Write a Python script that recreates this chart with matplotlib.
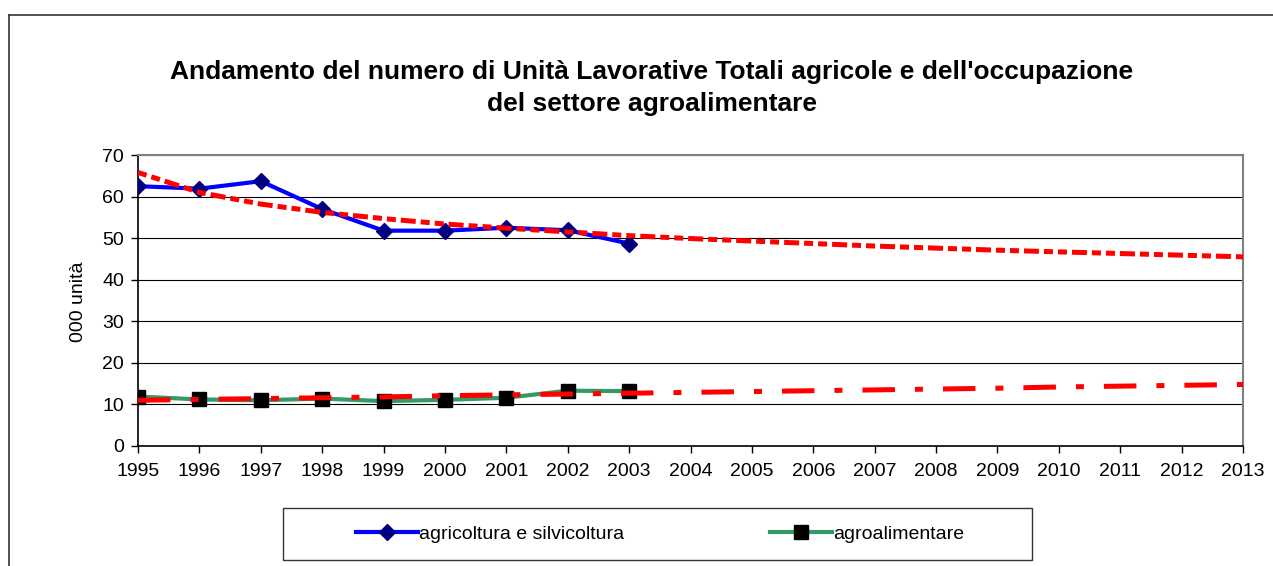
import matplotlib
matplotlib.use('Agg')
import matplotlib.pyplot as plt
from matplotlib.patches import Rectangle
from matplotlib.lines import Line2D

plt.rcParams['font.family'] = ['Liberation Sans', 'DejaVu Sans']

# Data (thousand units)
years = list(range(1995, 2014))
obs_years = list(range(1995, 2004))
agricoltura = [62.5, 61.9, 63.7, 57.0, 51.8, 51.8, 52.5, 51.9, 48.7]
agroalimentare = [11.9, 11.2, 11.0, 11.4, 10.8, 11.1, 11.6, 13.3, 13.2]
# trend lines as drawn in the picture, one value per year
trend_agri = [65.8, 61.0, 58.2, 56.2, 54.7, 53.4, 52.4, 51.5, 50.6, 49.9,
              49.3, 48.7, 48.1, 47.6, 47.1, 46.7, 46.3, 45.9, 45.5]
trend_agro = [11.0, 11.2, 11.4, 11.6, 11.8, 12.1, 12.3, 12.5, 12.7, 12.9,
              13.1, 13.3, 13.5, 13.7, 13.9, 14.2, 14.4, 14.6, 14.8]

title = ("Andamento del numero di Unità Lavorative Totali agricole e dell'occupazione\n"
         "del settore agroalimentare")

fig = plt.figure(figsize=(12.73, 5.66), dpi=100)
ax = fig.add_axes([138/1273, 1-446/566, (1243-138)/1273, (446-155)/566])

# outer chart border (left and top visible)
fig.add_artist(Line2D([9/1273, 9/1273], [0, 1-15/566], transform=fig.transFigure,
                      color='#333333', lw=1.2))
fig.add_artist(Line2D([9/1273, 1], [1-15/566, 1-15/566], transform=fig.transFigure,
                      color='#333333', lw=1.2))

for v in range(10, 80, 10):
    ax.axhline(v, color='black', lw=0.8, zorder=1)

ax.plot(years, trend_agri, color='red', lw=3.6, linestyle=(0, (1.8, 1, 1.8, 1, 3, 1)),
        zorder=4)
ax.plot(years, trend_agro, color='red', lw=3.6, linestyle=(0, (6.5, 4, 1.6, 4)), zorder=4)

ax.plot(obs_years, agricoltura, color='#0000ff', lw=3, marker='D', markersize=8.5,
        markerfacecolor='#000080', markeredgecolor='#000080', zorder=3,
        label='agricoltura e silvicoltura')
ax.plot(obs_years, agroalimentare, color='#339966', lw=3, marker='s', markersize=10.5,
        markerfacecolor='black', markeredgecolor='black', zorder=3,
        label='agroalimentare')

ax.set_xlim(1995, 2013)
ax.set_ylim(0, 70)
ax.set_xticks(years)
ax.set_yticks(range(0, 80, 10))
ax.tick_params(axis='both', direction='out', length=5, width=1, labelsize=14)
ax.tick_params(axis='x', pad=7)
ax.tick_params(axis='y', pad=5)
for s in ['top', 'right']:
    ax.spines[s].set_color('#808080')
    ax.spines[s].set_linewidth(1.5)
for s in ['left', 'bottom']:
    ax.spines[s].set_color('black')
    ax.spines[s].set_linewidth(1.2)
ax.set_ylabel('000 unità', fontsize=14)
ax.yaxis.set_label_coords((87-138)/(1243-138), (446-302)/(446-155))

fig.text(652/1273, 1-88/566, title, ha='center', va='center', fontsize=19,
         fontweight='bold', linespacing=1.4)

# legend box
fig.add_artist(Rectangle((283/1273, 1-560/566), (1032-283)/1273, 52/566,
                         transform=fig.transFigure, fill=False, edgecolor='#333333', lw=1))
handles, labels = ax.get_legend_handles_labels()
leg = fig.legend(handles, labels, loc='center', bbox_to_anchor=(660/1273, 1-534/566),
                 ncol=2, frameon=False, fontsize=14, columnspacing=7.5, handlelength=3.2,
                 handletextpad=0.05, numpoints=1)

fig.savefig('out.png', dpi=100)
